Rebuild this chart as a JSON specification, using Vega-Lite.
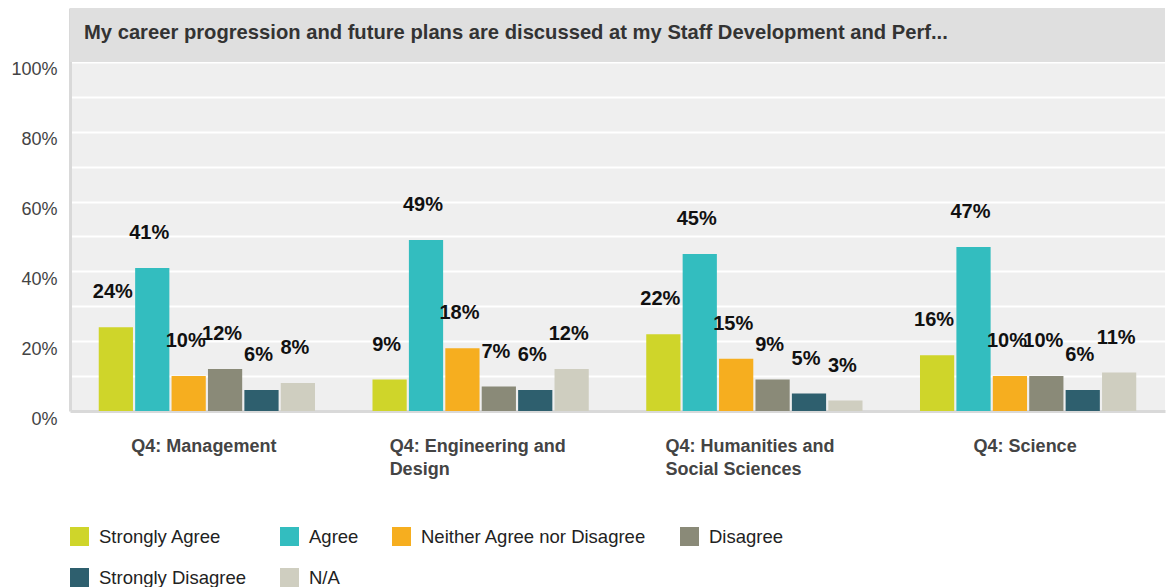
{
  "$schema": "https://vega.github.io/schema/vega-lite/v6.json",
  "autosize": {"type": "none"},
  "padding": {"left": 70, "top": 8, "right": 4, "bottom": 176},
  "width": 1095,
  "height": 403,
  "background": "#ffffff",
  "config": {
    "font": "Liberation Sans",
    "view": {"fill": "#efefef", "stroke": null}
  },
  "title": {
    "text": "My career progression and future plans are discussed at my Staff Development and Perf...",
    "anchor": "start",
    "frame": "group",
    "orient": "top",
    "offset": -45,
    "dx": 14,
    "baseline": "middle",
    "fontSize": 20.2,
    "fontWeight": "bold",
    "color": "#333333",
    "font": "Liberation Sans"
  },
  "datasets": {
    "survey": [
      {"school": "Q4: Management", "response": "Strongly Agree", "value": 0.24},
      {"school": "Q4: Management", "response": "Agree", "value": 0.41},
      {"school": "Q4: Management", "response": "Neither Agree nor Disagree", "value": 0.10},
      {"school": "Q4: Management", "response": "Disagree", "value": 0.12},
      {"school": "Q4: Management", "response": "Strongly Disagree", "value": 0.06},
      {"school": "Q4: Management", "response": "N/A", "value": 0.08},
      {"school": "Q4: Engineering and Design", "response": "Strongly Agree", "value": 0.09},
      {"school": "Q4: Engineering and Design", "response": "Agree", "value": 0.49},
      {"school": "Q4: Engineering and Design", "response": "Neither Agree nor Disagree", "value": 0.18},
      {"school": "Q4: Engineering and Design", "response": "Disagree", "value": 0.07},
      {"school": "Q4: Engineering and Design", "response": "Strongly Disagree", "value": 0.06},
      {"school": "Q4: Engineering and Design", "response": "N/A", "value": 0.12},
      {"school": "Q4: Humanities and Social Sciences", "response": "Strongly Agree", "value": 0.22},
      {"school": "Q4: Humanities and Social Sciences", "response": "Agree", "value": 0.45},
      {"school": "Q4: Humanities and Social Sciences", "response": "Neither Agree nor Disagree", "value": 0.15},
      {"school": "Q4: Humanities and Social Sciences", "response": "Disagree", "value": 0.09},
      {"school": "Q4: Humanities and Social Sciences", "response": "Strongly Disagree", "value": 0.05},
      {"school": "Q4: Humanities and Social Sciences", "response": "N/A", "value": 0.03},
      {"school": "Q4: Science", "response": "Strongly Agree", "value": 0.16},
      {"school": "Q4: Science", "response": "Agree", "value": 0.47},
      {"school": "Q4: Science", "response": "Neither Agree nor Disagree", "value": 0.10},
      {"school": "Q4: Science", "response": "Disagree", "value": 0.10},
      {"school": "Q4: Science", "response": "Strongly Disagree", "value": 0.06},
      {"school": "Q4: Science", "response": "N/A", "value": 0.11}
    ],
    "band": [{"lo": 1.0, "hi": 1.1547}]
  },
  "layer": [
    {
      "data": {"name": "survey"},
      "mark": {"type": "bar"},
      "encoding": {
        "x": {
          "field": "school", "type": "nominal", "sort": null,
          "scale": {"paddingInner": 0.21, "paddingOuter": 0.105},
          "axis": {
            "title": null,
            "labelAngle": 0,
            "labelFontSize": 18,
            "labelFontWeight": "bold",
            "labelColor": "#444444",
            "labelPadding": 26,
            "labelLineHeight": 23,
            "labelBaseline": "top",
            "labelAlign": {
              "condition": {"test": "datum.value == 'Q4: Engineering and Design' || datum.value == 'Q4: Humanities and Social Sciences'", "value": "left"},
              "value": "center"
            },
            "labelOffset": {
              "condition": [
                {"test": "datum.value == 'Q4: Engineering and Design'", "value": -91},
                {"test": "datum.value == 'Q4: Humanities and Social Sciences'", "value": -89}
              ],
              "value": -3
            },
            "ticks": false,
            "domainColor": "#d9d9d9",
            "domainWidth": 3,
            "labelExpr": "datum.value == 'Q4: Engineering and Design' ? ['Q4: Engineering and', 'Design'] : datum.value == 'Q4: Humanities and Social Sciences' ? ['Q4: Humanities and', 'Social Sciences'] : datum.value"
          }
        },
        "xOffset": {
          "field": "response", "type": "nominal",
          "sort": ["Strongly Agree", "Agree", "Neither Agree nor Disagree", "Disagree", "Strongly Disagree", "N/A"],
          "scale": {"paddingInner": 0.06, "paddingOuter": 0}
        },
        "y": {
          "field": "value", "type": "quantitative",
          "scale": {"domain": [0, 1.1547], "nice": false},
          "axis": {
            "title": null,
            "values": [0, 0.1, 0.2, 0.3, 0.4, 0.5, 0.6, 0.7, 0.8, 0.9, 1.0],
            "format": ".0%",
            "labelExpr": "round(datum.value * 100) % 20 == 0 ? datum.label : ''",
            "labelFontSize": 18,
            "labelColor": "#444444",
            "labelPadding": 13,
            "labelOffset": 8,
            "labelOverlap": false,
            "ticks": false,
            "grid": true,
            "gridColor": "#ffffff",
            "gridWidth": 2,
            "domainColor": "#d9d9d9",
            "domainWidth": 3
          }
        },
        "color": {
          "field": "response", "type": "nominal",
          "scale": {
            "domain": ["Strongly Agree", "Agree", "Neither Agree nor Disagree", "Disagree", "Strongly Disagree", "N/A"],
            "range": ["#cfd52a", "#33bdbf", "#f6ae1f", "#8a8a78", "#2e5f6e", "#cfcec0"]
          },
          "legend": {
            "title": null,
            "orient": "bottom",
            "direction": "horizontal",
            "columns": 4,
            "columnPadding": 33,
            "rowPadding": 22,
            "offset": 49,
            "symbolType": "square",
            "symbolSize": 360,
            "symbolStrokeWidth": 0,
            "symbolOpacity": 1,
            "labelFontSize": 18.5,
            "labelColor": "#222222",
            "labelOffset": 10,
            "labelLimit": 400
          }
        }
      }
    },
    {
      "data": {"name": "survey"},
      "mark": {"type": "text", "dy": -35, "dx": -3, "baseline": "middle", "fontSize": 20, "fontWeight": "bold", "color": "#111111"},
      "encoding": {
        "x": {"field": "school", "type": "nominal", "sort": null},
        "xOffset": {
          "field": "response", "type": "nominal",
          "sort": ["Strongly Agree", "Agree", "Neither Agree nor Disagree", "Disagree", "Strongly Disagree", "N/A"]
        },
        "y": {"field": "value", "type": "quantitative"},
        "text": {"field": "value", "type": "quantitative", "format": ".0%"}
      }
    },
    {
      "data": {"name": "band"},
      "mark": {"type": "rect", "color": "#dfdfdf"},
      "encoding": {
        "y": {"field": "lo", "type": "quantitative"},
        "y2": {"field": "hi"}
      }
    }
  ]
}
